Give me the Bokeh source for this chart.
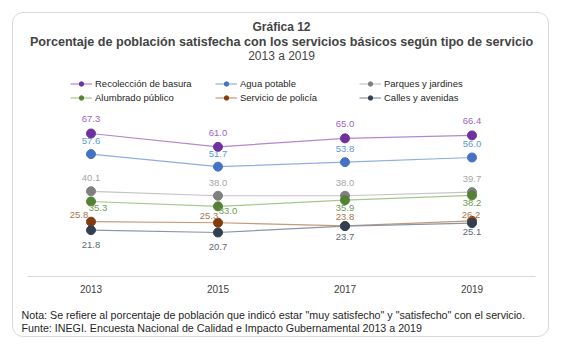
from bokeh.plotting import figure
from bokeh.models import FactorRange, Range1d, Legend, LegendItem, Title
from bokeh.embed import file_html
from bokeh.resources import INLINE
from bokeh.core.properties import value

# ---------------- data ----------------
years = ["2013", "2015", "2017", "2019"]
recoleccion = [67.3, 61.0, 65.0, 66.4]
agua = [57.6, 51.7, 53.8, 56.0]
parques = [40.1, 38.0, 38.0, 39.7]
alumbrado = [35.3, 33.0, 35.9, 38.2]
policia = [25.8, 25.3, 23.8, 26.2]
calles = [21.8, 20.7, 23.7, 25.1]

names = ["Recolección de basura", "Agua potable", "Parques y jardines",
         "Alumbrado público", "Servicio de policía", "Calles y avenidas"]
values_list = [recoleccion, agua, parques, alumbrado, policia, calles]

title1 = "Gráfica 12"
title2 = "Porcentaje de población satisfecha con los servicios básicos según tipo de servicio"
title3 = "2013 a 2019"
note1 = 'Nota: Se refiere al porcentaje de población que indicó estar "muy satisfecho" y "satisfecho" con el servicio.'
note2 = "Funte: INEGI. Encuesta Nacional de Calidad e Impacto Gubernamental  2013 a 2019"

# ---------------- styles ----------------
FONT = "Liberation Sans"
marker_colors = ["#7030a0", "#4472c4", "#7f7f7f", "#548235", "#843c0c", "#333f50"]
line_colors = ["#b585d2", "#8eaee3", "#c4c4c4", "#a3c98a", "#c49a78", "#8a95a5"]
label_colors = ["#a064c4", "#5b9bd5", "#a6a6a6", "#6f9a55", "#a8754c", "#5f6878"]
x_offsets = [[0, 0, 0, 0], [0, 0, 0, 0], [0, 0, 0, 0],
             [7, 10, 0, 0], [-12, -9, 0, -1], [0, 0, 0, 0]]
y_offsets = [[-14, -14, -14, -14], [-13, -13, -13, -13], [-13, -13, -13, -13],
             [7, 5, 8, 8], [-7, -7, -9, -6], [15, 14, 11, 9]]

W, H = 561, 349
p = figure(width=W, height=H, x_range=FactorRange(factors=years, range_padding=0),
           y_range=Range1d(0, 100.7), output_backend="svg", toolbar_location=None,
           y_axis_location=None, min_border_left=27, min_border_right=26,
           min_border_top=62, min_border_bottom=73, title=None)
p.styles = {"outline": "1px solid #d9d9d9", "outline-offset": "-13px",
            "border-radius": "23px"}
p.outline_line_color = None
p.xgrid.visible = False
p.ygrid.visible = False
p.background_fill_color = None
p.border_fill_color = None

ax = p.xaxis[0]
ax.axis_line_color = "#d9d9d9"
ax.axis_line_width = 1
ax.major_tick_line_color = None
ax.minor_tick_line_color = None
ax.major_tick_out = 0
ax.major_label_text_font = FONT
ax.major_label_text_font_size = "10px"
ax.major_label_text_color = "#404040"
ax.major_label_standoff = 8

renderers = []
for i, vals in enumerate(values_list):
    lr = p.line(years, vals, line_color=line_colors[i], line_width=1.2)
    sr = p.scatter(years, vals, size=9, fill_color=marker_colors[i],
                   line_color=marker_colors[i], marker="circle")
    p.text(x=years, y=vals, text=[f"{v:.1f}" for v in vals],
           x_offset=x_offsets[i], y_offset=y_offsets[i],
           text_align="center", text_baseline="middle",
           text_color=label_colors[i], text_font=value(FONT),
           text_font_size="9.5px")
    renderers.append((lr, sr))

legend_cols = [[0, 3], [1, 4], [2, 5]]
legend_x = [43, 188, 332]
for c, idxs in enumerate(legend_cols):
    items = [LegendItem(label=names[k], renderers=list(renderers[k])) for k in idxs]
    lg = Legend(items=items, location=(legend_x[c], 173), orientation="vertical",
                glyph_width=22, glyph_height=11, label_height=11, label_standoff=3,
                spacing=3, padding=0, margin=0, border_line_color=None,
                background_fill_alpha=0, label_text_font=FONT,
                label_text_font_size="9.5px", label_text_color="#262626")
    p.add_layout(lg, "center")

# titles: panels stack outward from the frame
p.add_layout(Title(text=title3, align="center", text_font=FONT, text_font_size="12px",
                   text_font_style="normal", standoff=0), "above")
p.add_layout(Title(text=title2, align="center", text_font=FONT, text_font_size="12.6px",
                   text_font_style="bold", standoff=-4), "above")
p.add_layout(Title(text=title1, align="center", text_font=FONT, text_font_size="12px",
                   text_font_style="bold", standoff=2), "above")

# footnotes below the axis (a small spacer first)
p.add_layout(Title(text=" ", text_font=FONT, text_font_size="7.5px", standoff=0), "below")
p.add_layout(Title(text=note1, align="left", offset=-6, text_font=FONT,
                   text_font_size="10.7px", text_font_style="normal", standoff=0,
                   text_color="#262626"), "below")
p.add_layout(Title(text=note2, align="left", offset=-6, text_font=FONT,
                   text_font_size="10.7px", text_font_style="normal", standoff=-2,
                   text_color="#262626"), "below")

open("out.html", "w").write(file_html(p, INLINE))
